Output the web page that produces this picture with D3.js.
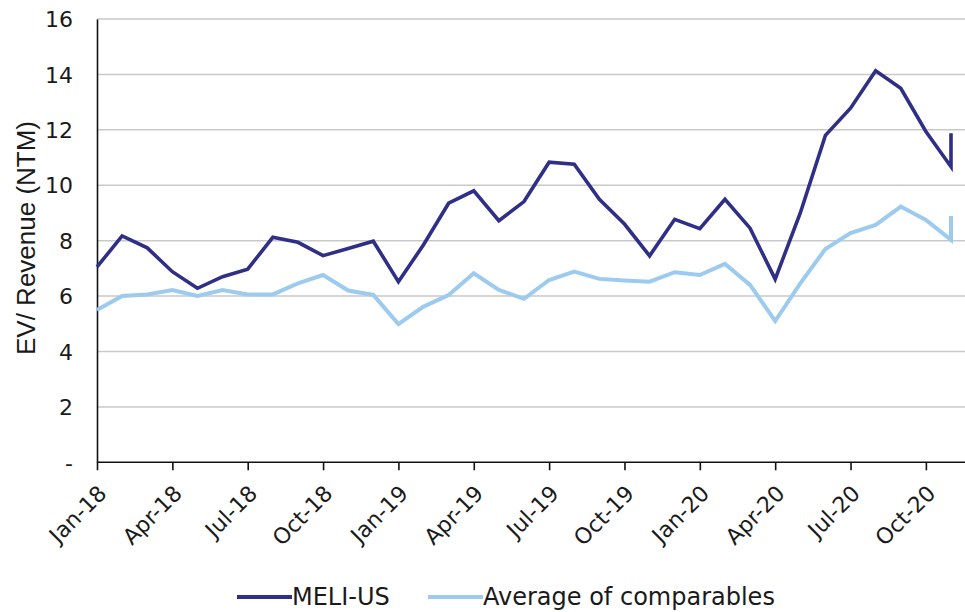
<!DOCTYPE html>
<html>
<head>
<meta charset="utf-8">
<script src="https://cdn.jsdelivr.net/npm/d3@7"></script>
<style>
  body { margin: 0; background: #fff; }
  text { font-family: "DejaVu Sans", sans-serif; fill: #1a1a1a; }
</style>
</head>
<body>
<div id="chart"></div>
<script>
// Data
// month keys (last month repeated: latest value drawn at the same x)
var months = ["2018-01","2018-02","2018-03","2018-04","2018-05","2018-06","2018-07","2018-08","2018-09","2018-10","2018-11","2018-12",
  "2019-01","2019-02","2019-03","2019-04","2019-05","2019-06","2019-07","2019-08","2019-09","2019-10","2019-11","2019-12",
  "2020-01","2020-02","2020-03","2020-04","2020-05","2020-06","2020-07","2020-08","2020-09","2020-10","2020-11","2020-11"];

var meli = [7.05, 8.17, 7.74, 6.88, 6.28, 6.70, 6.97, 8.12, 7.94, 7.46, 7.72, 7.98,
  6.52, 7.85, 9.35, 9.80, 8.72, 9.41, 10.83, 10.76, 9.49, 8.60, 7.45, 8.77,
  8.43, 9.49, 8.45, 6.61, 9.00, 11.80, 12.78, 14.13, 13.50, 11.94, 10.67, 11.88];

var comps = [5.50, 6.00, 6.06, 6.22, 6.00, 6.22, 6.06, 6.06, 6.46, 6.76, 6.20, 6.04,
  4.99, 5.62, 6.04, 6.82, 6.22, 5.90, 6.58, 6.88, 6.62, 6.56, 6.52, 6.86,
  6.76, 7.16, 6.40, 5.10, 6.46, 7.70, 8.27, 8.57, 9.23, 8.75, 8.03, 8.89];

var tickLabels = ["Jan-18","Apr-18","Jul-18","Oct-18","Jan-19","Apr-19","Jul-19","Oct-19",
  "Jan-20","Apr-20","Jul-20","Oct-20"];
var yTicks = [0, 2, 4, 6, 8, 10, 12, 14, 16];

var seriesNames = ["MELI-US", "Average of comparables"];
var seriesColors = ["#2f2f87", "#9ccbef"];

// Step 1: chart setup
var svgWidth = 965;
var svgHeight = 612;
var margin = { top: 19, right: 0, bottom: 150, left: 97 };
var height = 462.3 - margin.top;

function monthIndex(s) {
  var p = s.split("-");
  return (+p[0] - 2018) * 12 + (+p[1] - 1);
}

var svg = d3.select("#chart")
  .append("svg")
  .attr("width", svgWidth)
  .attr("height", svgHeight);

var chartGroup = svg.append("g")
  .attr("transform", `translate(${margin.left}, ${margin.top})`);

// Step 2: scales
var xScale = d3.scaleLinear()
  .domain([0, 34])
  .range([0, 854]);

var yScale = d3.scaleLinear()
  .domain([0, 16])
  .range([height, 0]);

// gridlines
chartGroup.append("g")
  .selectAll("line")
  .data(yTicks.filter(d => d > 0))
  .enter()
  .append("line")
  .attr("x1", 0)
  .attr("x2", svgWidth - margin.left)
  .attr("y1", d => yScale(d))
  .attr("y2", d => yScale(d))
  .attr("stroke", "#c9c9c9")
  .attr("stroke-width", 1.5);

// Step 3: axes
var leftAxis = d3.axisLeft(yScale)
  .tickValues(yTicks)
  .tickSize(0)
  .tickPadding(24)
  .tickFormat(d => d === 0 ? "-" : d);

var yAxisG = chartGroup.append("g").call(leftAxis);
yAxisG.select(".domain").attr("stroke", "#111").attr("stroke-width", 1.6);
yAxisG.selectAll("text").attr("font-size", "22px").attr("dy", "0.35em");

var bottomAxis = d3.axisBottom(xScale)
  .tickValues(tickLabels.map((d, i) => i * 3))
  .tickSize(8)
  .tickSizeOuter(0)
  .tickFormat((d, i) => tickLabels[i]);

var xAxisG = chartGroup.append("g")
  .attr("transform", `translate(0, ${height})`)
  .call(bottomAxis);
xAxisG.select(".domain").attr("stroke", "#111").attr("stroke-width", 1.6)
  .attr("d", `M0,0H${svgWidth - margin.left}`);
xAxisG.selectAll(".tick line").attr("stroke", "#111").attr("stroke-width", 1.6);
xAxisG.selectAll("text")
  .attr("font-size", "22px")
  .attr("text-anchor", "end")
  .attr("dy", "0.35em")
  .attr("transform", "translate(5, 27) rotate(-45)")
  .attr("y", 0)
  .attr("x", 0);

// y-axis title
chartGroup.append("text")
  .attr("transform", "rotate(-90)")
  .attr("x", -(238 - margin.top))
  .attr("y", 35 - margin.left)
  .attr("text-anchor", "middle")
  .attr("font-size", "26px")
  .style("font-family", "'Liberation Sans', Arial, sans-serif")
  .text("EV/ Revenue (NTM)");

// Step 4: lines
var line = d3.line()
  .x((d, i) => xScale(monthIndex(months[i])))
  .y(d => yScale(d));

[comps, meli].forEach(function (vals, k) {
  chartGroup.append("path")
    .datum(vals)
    .attr("fill", "none")
    .attr("stroke", k === 0 ? seriesColors[1] : seriesColors[0])
    .attr("stroke-width", k === 0 ? 4 : 3.6)
    .attr("stroke-linejoin", "miter")
    .attr("d", line);
});

// Step 5: legend
var legendX = [237, 428];
var legend = svg.append("g")
  .selectAll("g")
  .data(seriesNames)
  .enter()
  .append("g")
  .attr("transform", (d, i) => `translate(${legendX[i]}, 597)`);

legend.append("line")
  .attr("x1", 0)
  .attr("x2", 55)
  .attr("stroke", (d, i) => seriesColors[i])
  .attr("stroke-width", 4);

legend.append("text")
  .attr("x", 55)
  .attr("y", 8)
  .attr("font-size", "24px")
  .text(d => d);
</script>
</body>
</html>
